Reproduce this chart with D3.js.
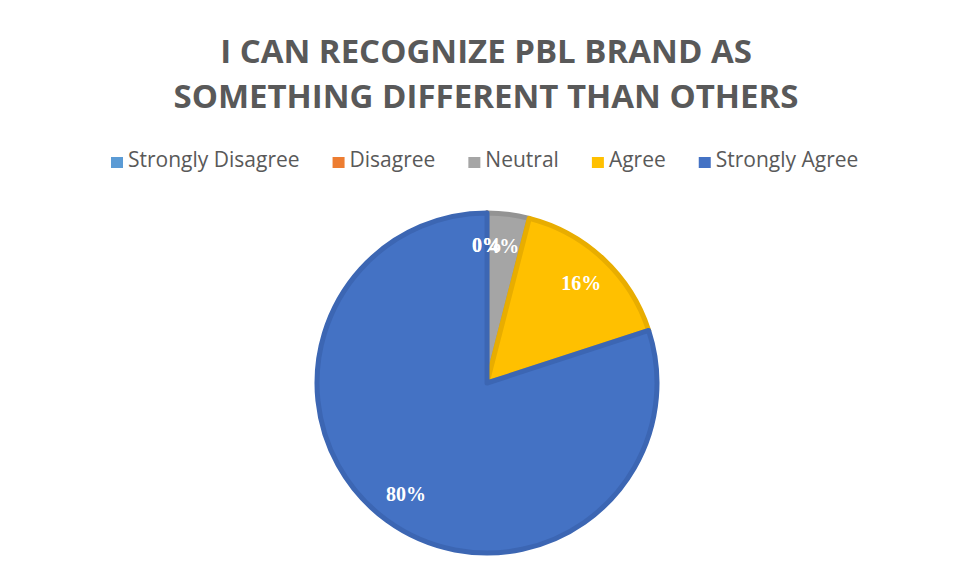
<!DOCTYPE html>
<html>
<head>
<meta charset="utf-8">
<script src="https://cdn.jsdelivr.net/npm/d3@7"></script>
<style>
  body { margin: 0; background: #fff; }
  svg { display: block; }
</style>
</head>
<body>
<svg id="chart"></svg>
<script>
const width = 955,
    height = 577;

const titleLines = ['I CAN RECOGNIZE PBL BRAND AS', 'SOMETHING DIFFERENT THAN OTHERS'];
const categories = ['Strongly Disagree', 'Disagree', 'Neutral', 'Agree', 'Strongly Agree'];
const values = [0, 0, 4, 16, 80];
const colors = ['#5B9BD5', '#ED7D31', '#A5A5A5', '#FFC000', '#4472C4'];
const borders = ['#4f88bd', '#d06a26', '#939393', '#e8ad00', '#3c66b3'];

const cx = 487, cy = 383, radius = 170;

const svg = d3.select('#chart')
    .attr('width', width)
    .attr('height', height);

// Title
svg.append('g')
    .selectAll('text')
    .data(titleLines)
    .join('text')
      .attr('x', 486)
      .attr('y', (d, i) => 63 + i * 45)
      .attr('text-anchor', 'middle')
      .style('font-family', '"Open Sans", sans-serif')
      .style('font-weight', 'bold')
      .style('font-size', '33px')
      .style('fill', '#595959')
      .text(d => d);

// Legend
const legend = svg.append('g').attr('transform', 'translate(111,160)');
let lx = 0;
categories.forEach((c, i) => {
    const item = legend.append('g').attr('transform', `translate(${lx},0)`);
    item.append('rect')
        .attr('x', 0)
        .attr('y', -3)
        .attr('width', 12)
        .attr('height', 11)
        .attr('fill', colors[i]);
    const t = item.append('text')
        .attr('x', 17)
        .attr('y', 0)
        .attr('dy', '0.35em')
        .style('font-family', '"Open Sans", sans-serif')
        .style('font-size', '21px')
        .style('fill', '#595959')
        .text(c);
    lx += 17 + t.node().getComputedTextLength() + 33;
});

// Pie
const pie = d3.pie()
    .value(d => d)
    .sort(null)
    .startAngle(0)
    .endAngle(2 * Math.PI);

const arc = d3.arc()
    .innerRadius(0)
    .outerRadius(radius);

const labelArc = d3.arc()
    .innerRadius(radius * 0.81)
    .outerRadius(radius * 0.81);

const arcs = pie(values);

const g = svg.append('g').attr('transform', `translate(${cx},${cy})`);

g.selectAll('path')
    .data(arcs)
    .join('path')
      .attr('d', arc)
      .attr('fill', (d, i) => colors[i])
      .attr('stroke', (d, i) => borders[i])
      .attr('stroke-width', 5)
      .attr('stroke-linejoin', 'round');

g.selectAll('text.lbl')
    .data(arcs)
    .join('text')
      .attr('class', 'lbl')
      .attr('transform', d => `translate(${labelArc.centroid(d)})`)
      .attr('text-anchor', 'middle')
      .attr('dy', '0.35em')
      .style('font-family', '"Liberation Serif", serif')
      .style('font-weight', 'bold')
      .style('font-size', '20px')
      .style('fill', '#fff')
      .text(d => d.data + '%');
</script>
</body>
</html>
